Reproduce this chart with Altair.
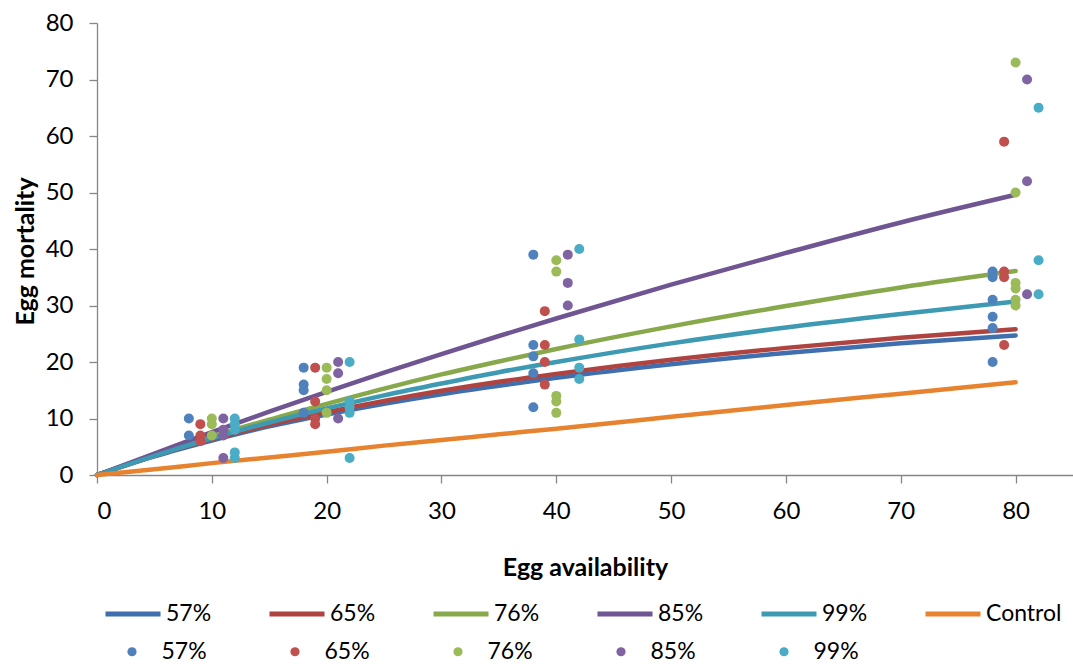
import altair as alt
import pandas as pd

# Fitted response curves: egg mortality against egg availability
curve_x = [0, 5, 10, 15, 20, 25, 30, 35, 40, 50, 60, 70, 80]
curve_57 = [0, 3.3, 6.1, 8.6, 10.7, 12.6, 14.3, 15.8, 17.2, 19.6, 21.6, 23.3, 24.7]
curve_65 = [0, 3.4, 6.3, 8.9, 11.1, 13.1, 14.9, 16.5, 17.9, 20.4, 22.5, 24.3, 25.8]
curve_76 = [0, 3.5, 6.8, 9.8, 12.6, 15.3, 17.8, 20.1, 22.3, 26.3, 29.9, 33.2, 36.1]
curve_85 = [0, 3.8, 7.6, 11.2, 14.7, 18.1, 21.4, 24.6, 27.7, 33.7, 39.3, 44.7, 49.6]
curve_99 = [0, 3.4, 6.5, 9.3, 11.8, 14.1, 16.2, 18.2, 20.0, 23.3, 26.1, 28.5, 30.7]
curve_control = [0, 1.0, 2.1, 3.1, 4.1, 5.2, 6.2, 7.2, 8.2, 10.3, 12.4, 14.4, 16.4]

line_names = ["57%", "65%", "76%", "85%", "99%", "Control"]
line_colors = ["#3F6FAE", "#AE4340", "#88A84C", "#6F5592", "#3E9AB3", "#E7832F"]

# Observed egg mortality; each group is plotted slightly offset along x
obs_57 = [(8, [10, 7]), (18, [19, 16, 15, 11]), (38, [39, 23, 21, 18, 12]),
          (78, [36, 35, 31, 28, 26, 20])]
obs_65 = [(9, [9, 7, 6]), (19, [19, 13, 10, 9]), (39, [29, 23, 20, 16]),
          (79, [59, 36, 35, 23])]
obs_76 = [(10, [10, 9, 7]), (20, [19, 17, 15, 11]), (40, [38, 36, 14, 13, 11]),
          (80, [73, 50, 34, 33, 31, 30])]
obs_85 = [(11, [10, 8, 7, 3]), (21, [20, 18, 10]), (41, [39, 34, 30]),
          (81, [70, 52, 32])]
obs_99 = [(12, [10, 9, 8, 4, 3]), (22, [20, 13, 12, 11, 3]), (42, [40, 24, 19, 17]),
          (82, [65, 38, 32])]

point_names = ["57%", "65%", "76%", "85%", "99%"]
point_colors = ["#4F81BD", "#C0504D", "#9BBB59", "#8064A2", "#4BACC6"]

x_ticks = [0, 10, 20, 30, 40, 50, 60, 70, 80]
y_ticks = [0, 10, 20, 30, 40, 50, 60, 70, 80]

FONT = "Lato"

curves = [curve_57, curve_65, curve_76, curve_85, curve_99, curve_control]
line_rows = []
for order, (name, ys) in enumerate(zip(line_names, curves)):
    for x, y in zip(curve_x, ys):
        line_rows.append({"series": name, "order": order, "x": x, "y": y})
line_df = pd.DataFrame(line_rows)

point_rows = []
for name, obs in zip(point_names, [obs_57, obs_65, obs_76, obs_85, obs_99]):
    for x, ys in obs:
        for y in ys:
            point_rows.append({"group": name, "x": x, "y": y})
point_df = pd.DataFrame(point_rows)

axis_common = dict(
    grid=False,
    domainColor="#868686",
    domainWidth=1.3,
    tickColor="#868686",
    tickWidth=1.3,
    tickSize=8,
    labelFont=FONT,
    labelFontSize=24,
    labelColor="#000000",
    labelPadding=16,
    titleFont=FONT,
    titleFontSize=25,
    titleFontWeight="bold",
    titleColor="#000000",
)

x_enc = alt.X(
    "x:Q",
    scale=alt.Scale(domain=[0, 85], nice=False),
    axis=alt.Axis(values=x_ticks, title="Egg availability", titleY=100,
                  titleBaseline="alphabetic", **axis_common),
)
y_enc = alt.Y(
    "y:Q",
    scale=alt.Scale(domain=[0, 80], nice=False),
    axis=alt.Axis(values=y_ticks, title="Egg mortality", titleX=-64, titleY=228,
                  titleAngle=270, titleAlign="center", titleBaseline="alphabetic",
                  **axis_common),
)

lines = alt.Chart(line_df).mark_line(
    strokeWidth=4.5, strokeCap="round", interpolate="monotone"
).encode(
    x=x_enc,
    y=y_enc,
    order="order:Q",
    stroke=alt.Stroke(
        "series:N",
        scale=alt.Scale(domain=line_names, range=line_colors),
        legend=alt.Legend(
            title=None, orient="none", legendX=6, legendY=561,
            direction="horizontal", columns=6, columnPadding=47,
            symbolType="stroke", symbolSize=3025, symbolStrokeWidth=5,
            labelOffset=3, labelFont=FONT, labelFontSize=23, labelColor="#000000",
        ),
    ),
)

points = alt.Chart(point_df).mark_circle(size=100, opacity=1).encode(
    x=x_enc,
    y=y_enc,
    fill=alt.Fill(
        "group:N",
        scale=alt.Scale(domain=point_names, range=point_colors),
        legend=alt.Legend(
            title=None, orient="none", legendX=23.5, legendY=617,
            direction="horizontal", columns=5, columnPadding=76,
            symbolType="circle", symbolSize=85, symbolStrokeWidth=0,
            labelOffset=18, labelFont=FONT, labelFontSize=23, labelColor="#000000",
        ),
    ),
)

chart = alt.layer(lines, points).resolve_scale(
    fill="independent", stroke="independent"
).properties(
    width=976,
    height=452,
    autosize=alt.AutoSizeParams(type="none"),
    padding={"left": 97, "top": 23, "right": 0, "bottom": 189},
    background="#FFFFFF",
).configure_view(stroke=None)

chart.save("out.html", embed_options={"renderer": "svg", "actions": False})
